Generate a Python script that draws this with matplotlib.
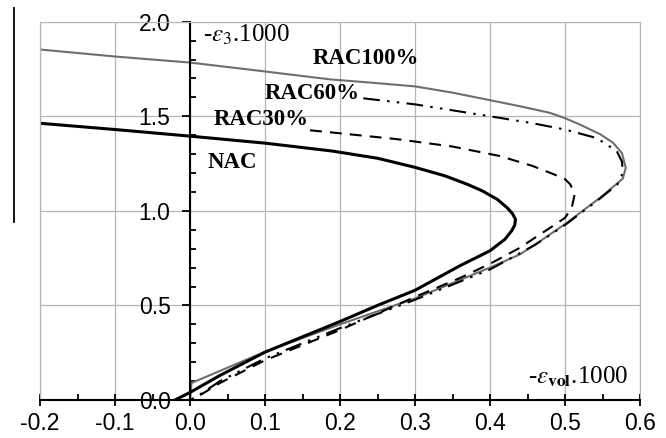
import matplotlib.pyplot as plt
from matplotlib.lines import Line2D
from matplotlib.ticker import MultipleLocator, FuncFormatter

plt.rcParams['mathtext.fontset'] = 'stix'

# curves: x = -eps_vol.1000, y = -eps_3.1000
nac_x = [-0.20, -0.10, 0.00, 0.10, 0.19, 0.25, 0.30, 0.34, 0.37, 0.39, 0.41, 0.423, 0.430,
         0.434, 0.433, 0.429, 0.420, 0.40, 0.36, 0.30, 0.25, 0.20, 0.10, 0.04, 0.00, -0.02]
nac_y = [1.463, 1.430, 1.395, 1.358, 1.316, 1.278, 1.230, 1.185, 1.140, 1.105, 1.060, 1.016, 0.985,
         0.955, 0.925, 0.895, 0.850, 0.789, 0.710, 0.580, 0.500, 0.415, 0.253, 0.130, 0.040, 0.0]

rac100_x = [-0.20, -0.10, 0.00, 0.10, 0.187, 0.25, 0.30, 0.35, 0.40, 0.44, 0.48, 0.50, 0.52,
            0.547, 0.564, 0.576, 0.581, 0.577, 0.547, 0.50, 0.467, 0.44, 0.40, 0.30, 0.20,
            0.10, 0.002, 0.0]
rac100_y = [1.853, 1.816, 1.784, 1.737, 1.695, 1.675, 1.658, 1.625, 1.585, 1.553, 1.518, 1.490,
            1.456, 1.405, 1.360, 1.305, 1.227, 1.170, 1.070, 0.930, 0.840, 0.770, 0.700, 0.537,
            0.400, 0.255, 0.090, 0.0]

rac60_x = [0.231, 0.30, 0.40, 0.457, 0.50, 0.542, 0.569, 0.576, 0.577, 0.570, 0.545, 0.50,
           0.46, 0.40, 0.30, 0.20, 0.10, 0.04, 0.01, 0.0]
rac60_y = [1.595, 1.563, 1.500, 1.463, 1.430, 1.385, 1.316, 1.260, 1.200, 1.140, 1.060, 0.925,
           0.820, 0.690, 0.530, 0.380, 0.220, 0.100, 0.020, 0.0]

rac30_x = [0.16, 0.20, 0.276, 0.35, 0.413, 0.457, 0.484, 0.50, 0.507, 0.513, 0.509, 0.50,
           0.48, 0.458, 0.44, 0.40, 0.36, 0.30, 0.20, 0.10, 0.04, 0.007]
rac30_y = [1.426, 1.410, 1.379, 1.340, 1.290, 1.237, 1.195, 1.168, 1.140, 1.090, 1.016, 0.963,
           0.910, 0.853, 0.805, 0.720, 0.645, 0.545, 0.370, 0.210, 0.090, 0.010]

fig = plt.figure(figsize=(6.66, 4.38), dpi=100)
ax = fig.add_axes([40 / 666, 38 / 438, 600 / 666, 378.3 / 438])

ax.plot(rac100_x, rac100_y, color='#6e6e6e', lw=1.5)
ax.plot(rac60_x, rac60_y, color='black', lw=1.5, dashes=(8, 3.5, 1.2, 3.5, 1.2, 3.5))
ax.plot(rac30_x, rac30_y, color='black', lw=1.5, dashes=(5.7, 3.9))
ax.plot(nac_x, nac_y, color='black', lw=2.2)

ax.set_xlim(-0.2, 0.6)
ax.set_ylim(0, 2.0)

# grid and box
ax.grid(True, which='major', color='#b5b5b5', lw=0.9)
ax.spines['top'].set_color('#b5b5b5')
ax.spines['right'].set_color('#b5b5b5')
ax.axvline(-0.2, color='#b5b5b5', lw=0.9, clip_on=False)
ax.spines['left'].set_position(('data', 0))
ax.spines['left'].set_linewidth(1.5)
ax.spines['bottom'].set_linewidth(1.5)

ax.xaxis.set_major_locator(MultipleLocator(0.1))
ax.xaxis.set_minor_locator(MultipleLocator(0.05))
ax.yaxis.set_major_locator(MultipleLocator(0.5))
ax.yaxis.set_minor_locator(MultipleLocator(0.1))
fmt = FuncFormatter(lambda v, p: f'{0.0 if abs(v) < 1e-9 else v:.1f}')
ax.xaxis.set_major_formatter(fmt)
ax.yaxis.set_major_formatter(fmt)

ax.tick_params(axis='x', which='major', direction='inout', length=8, width=1.3, pad=5)
ax.tick_params(axis='x', which='minor', direction='in', length=4, width=1.3)
ax.tick_params(axis='y', which='major', direction='out', length=6, width=1.3, pad=8)
ax.tick_params(axis='y', which='minor', direction='in', length=4, width=1.3)
for lab in ax.get_xticklabels() + ax.get_yticklabels():
    lab.set_family('Liberation Sans')
    lab.set_fontsize(16.5)

# annotations
ax.text(0.017, 1.93, r'-$\varepsilon_{3}$.1000', family='Liberation Serif', fontsize=18, va='center')
ax.text(0.584, 0.121, r'-$\varepsilon_{\mathbf{vol}}$.1000', family='Liberation Serif',
        fontsize=18, va='center', ha='right')
lab_kw = dict(family='Liberation Serif', fontweight='bold', fontsize=16.5, va='center')
ax.text(0.164, 1.805, 'RAC100%', **lab_kw)
ax.text(0.100, 1.621, 'RAC60%', **lab_kw)
ax.text(0.031, 1.484, 'RAC30%', **lab_kw)
ax.text(0.024, 1.253, 'NAC', **lab_kw)

# stray vertical bar at the left edge of the scan
fig.add_artist(Line2D([14 / 666, 14 / 666], [1 - 8 / 438, 1 - 222 / 438],
                      transform=fig.transFigure, color='black', lw=1.3))

fig.savefig('out.png', dpi=100)
